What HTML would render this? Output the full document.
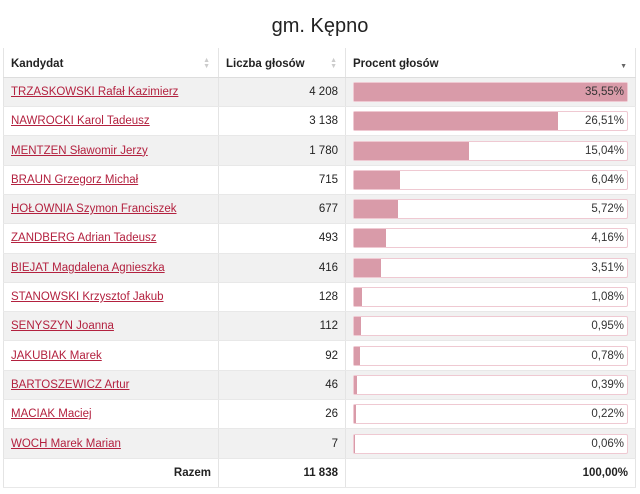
<!DOCTYPE html>
<html><head><meta charset="utf-8"><style>
body{margin:0;width:640px;height:494px;background:#fff;font-family:"Liberation Sans","DejaVu Sans",sans-serif;position:relative;overflow:hidden}
.t{position:absolute;top:15px;left:0;width:640px;text-align:center;font-size:20px;color:#222}
table{position:absolute;left:3px;top:48px;border-collapse:collapse;width:633px;font-size:11.5px;color:#222}
td,th{height:29.3px;padding:0 7px;border-left:1px solid #e4e4e4;border-right:1px solid #e4e4e4;box-sizing:border-box;vertical-align:middle}
th{text-align:left;font-weight:bold;border-bottom:1px solid #ddd;position:relative;padding-top:4px}
tr.g td{background:#f1f1f1}
tr td{border-bottom:1px solid #e8e8e8}
a{color:#b3213f;text-decoration:underline}
.n{text-align:right}
.bar{position:relative;height:20px;border:1px solid #efc9d2;background:#fff;border-radius:2px;box-sizing:border-box}
.bar i{position:absolute;left:0;top:0;bottom:0;background:#d99ba9}
.bar span{position:absolute;right:3px;top:3px;color:#333}
.s{position:absolute;right:8px;top:10px;font-size:7px;color:#ccc;line-height:6px}
</style></head><body>
<div class="t">gm. Kępno</div>
<table>
<tr><th style="width:215px">Kandydat<span class="s">▲<br>▼</span></th><th style="width:127px">Liczba głosów<span class="s">▲<br>▼</span></th><th>Procent głosów<span class="s" style="color:#666">&nbsp;<br>▼</span></th></tr>
<tr class="g"><td><a>TRZASKOWSKI Rafał Kazimierz</a></td><td class="n">4 208</td><td><div class="bar"><i style="width:100%"></i><span>35,55%</span></div></td></tr>
<tr><td><a>NAWROCKI Karol Tadeusz</a></td><td class="n">3 138</td><td><div class="bar"><i style="width:74.6%"></i><span>26,51%</span></div></td></tr>
<tr class="g"><td><a>MENTZEN Sławomir Jerzy</a></td><td class="n">1 780</td><td><div class="bar"><i style="width:42.3%"></i><span>15,04%</span></div></td></tr>
<tr><td><a>BRAUN Grzegorz Michał</a></td><td class="n">715</td><td><div class="bar"><i style="width:17%"></i><span>6,04%</span></div></td></tr>
<tr class="g"><td><a>HOŁOWNIA Szymon Franciszek</a></td><td class="n">677</td><td><div class="bar"><i style="width:16.1%"></i><span>5,72%</span></div></td></tr>
<tr><td><a>ZANDBERG Adrian Tadeusz</a></td><td class="n">493</td><td><div class="bar"><i style="width:11.7%"></i><span>4,16%</span></div></td></tr>
<tr class="g"><td><a>BIEJAT Magdalena Agnieszka</a></td><td class="n">416</td><td><div class="bar"><i style="width:9.9%"></i><span>3,51%</span></div></td></tr>
<tr><td><a>STANOWSKI Krzysztof Jakub</a></td><td class="n">128</td><td><div class="bar"><i style="width:3%"></i><span>1,08%</span></div></td></tr>
<tr class="g"><td><a>SENYSZYN Joanna</a></td><td class="n">112</td><td><div class="bar"><i style="width:2.7%"></i><span>0,95%</span></div></td></tr>
<tr><td><a>JAKUBIAK Marek</a></td><td class="n">92</td><td><div class="bar"><i style="width:2.2%"></i><span>0,78%</span></div></td></tr>
<tr class="g"><td><a>BARTOSZEWICZ Artur</a></td><td class="n">46</td><td><div class="bar"><i style="width:1.1%"></i><span>0,39%</span></div></td></tr>
<tr><td><a>MACIAK Maciej</a></td><td class="n">26</td><td><div class="bar"><i style="width:0.6%"></i><span>0,22%</span></div></td></tr>
<tr class="g"><td><a>WOCH Marek Marian</a></td><td class="n">7</td><td><div class="bar"><i style="width:0.2%"></i><span>0,06%</span></div></td></tr>
<tr><td class="n"><b>Razem</b></td><td class="n"><b>11 838</b></td><td class="n"><b>100,00%</b></td></tr>
</table>
</body></html>
